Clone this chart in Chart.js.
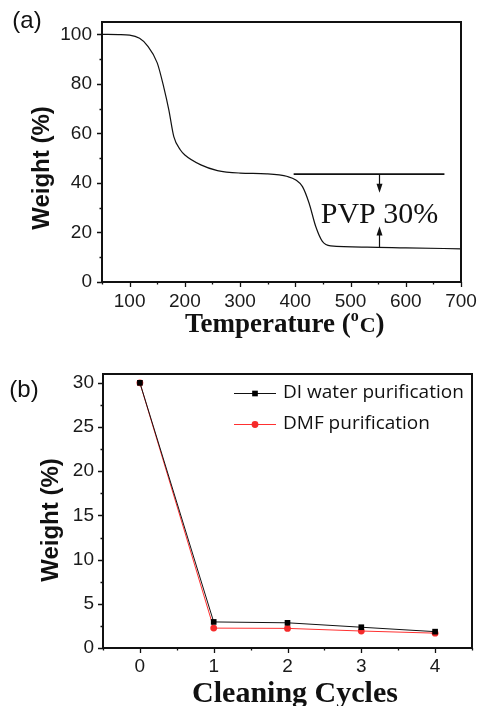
<!DOCTYPE html>
<html>
<head>
<meta charset="utf-8">
<title>PVP removal</title>
<script src="https://cdn.jsdelivr.net/npm/chart.js@4.4.1/dist/chart.umd.min.js"></script>
<style>
  body { margin: 0; background: #fff; overflow: hidden; }
  canvas { position: absolute; left: 0; }
  #tga { top: 0; }
  #cycles { top: 340px; }
</style>
</head>
<body>
<canvas id="tga" width="478" height="340"></canvas>
<canvas id="cycles" width="478" height="366"></canvas>
<script>
// (a) TGA curve
var tgaTemp = [50, 80, 100, 118, 132, 150, 162, 171, 180, 192, 200, 229, 259, 300, 348, 386, 401, 413, 425, 437, 449, 464, 530, 600, 700];
var tgaWeight = [100, 99.9, 99.7, 98.4, 95.5, 88.5, 78.5, 69.5, 58.7, 53.3, 51.3, 47.3, 45, 44, 43.7, 42.6, 41.2, 38.5, 31.8, 22.4, 16.4, 14.6, 14.1, 13.8, 13.4];

// PVP loss marker
var pvpLevel = 43.6;
var pvpStart = 397;
var pvpEnd = 670;
var pvpArrowAt = 552;
var residueLevel = 14.0;
var pvpText = 'PVP 30%';

// (b) weight after each cleaning cycle
var cycles = [0, 1, 2, 3, 4];
var diWater = [30, 2.95, 2.85, 2.35, 1.85];
var dmf = [30, 2.25, 2.22, 1.92, 1.68];
var seriesNames = ['DI water purification', 'DMF purification'];

Chart.defaults.font.family = 'Liberation Sans';
Chart.defaults.color = '#1a1a1a';
Chart.defaults.animation = false;

function isMajor(v, step) {
    return Math.abs(v / step - Math.round(v / step)) < 1e-6;
}

function toPoints(xs, ys) {
    return xs.map(function (x, i) { return { x: x, y: ys[i] }; });
}

// box round the plot and outward ticks, long ones on majors
var frame = {
    id: 'frame',
    afterDraw: function (chart, args, o) {
        var ctx = chart.ctx, a = chart.chartArea;
        var sx = chart.scales.x, sy = chart.scales.y;
        ctx.save();
        ctx.strokeStyle = '#111';
        ctx.lineWidth = 1.3;
        ctx.beginPath();
        sx.ticks.forEach(function (t) {
            var px = Math.round(sx.getPixelForValue(t.value)) + 0.5;
            var len = isMajor(t.value, o.xMajor) ? 5 : 2.5;
            ctx.moveTo(px, a.bottom);
            ctx.lineTo(px, a.bottom + len);
        });
        sy.ticks.forEach(function (t) {
            var py = Math.round(sy.getPixelForValue(t.value)) + 0.5;
            var len = isMajor(t.value, o.yMajor) ? 5 : 2.5;
            ctx.moveTo(a.left - len, py);
            ctx.lineTo(a.left, py);
        });
        ctx.stroke();
        ctx.lineWidth = 2;
        ctx.strokeRect(a.left, a.top, a.right - a.left, a.bottom - a.top);
        ctx.restore();
    }
};

function rotatedText(ctx, text, x, y, font) {
    ctx.save();
    ctx.translate(x, y);
    ctx.rotate(-Math.PI / 2);
    ctx.font = font;
    ctx.textAlign = 'center';
    ctx.textBaseline = 'middle';
    ctx.fillText(text, 0, 0);
    ctx.restore();
}

function arrow(ctx, x, y0, y1) {
    // shaft from y0 to the tip at y1
    var dir = y1 > y0 ? 1 : -1;
    ctx.beginPath();
    ctx.moveTo(x, y0);
    ctx.lineTo(x, y1 - dir * 6);
    ctx.stroke();
    ctx.beginPath();
    ctx.moveTo(x, y1);
    ctx.lineTo(x - 3, y1 - dir * 9);
    ctx.lineTo(x + 3, y1 - dir * 9);
    ctx.closePath();
    ctx.fill();
}

var tgaText = {
    id: 'tgaText',
    afterDraw: function (chart) {
        var ctx = chart.ctx, sx = chart.scales.x, sy = chart.scales.y;
        ctx.save();
        ctx.fillStyle = '#111';
        ctx.strokeStyle = '#111';
        ctx.lineWidth = 1.2;

        var ax = Math.round(sx.getPixelForValue(pvpArrowAt)) + 0.5;
        arrow(ctx, ax, sy.getPixelForValue(pvpLevel), sy.getPixelForValue(36));
        arrow(ctx, ax, sy.getPixelForValue(residueLevel), sy.getPixelForValue(22.4));

        ctx.font = '30px "Liberation Serif"';
        ctx.textAlign = 'center';
        ctx.textBaseline = 'alphabetic';
        ctx.fillText(pvpText, ax, sy.getPixelForValue(23.8));

        ctx.textAlign = 'center';
        ctx.textBaseline = 'middle';
        ctx.font = '24px "Liberation Sans"';
        ctx.fillText('(a)', 27, 21);

        rotatedText(ctx, 'Weight (%)', 42, 168, 'bold 24px "Liberation Sans"');

        // Temperature (oC) with a raised o
        ctx.textAlign = 'left';
        ctx.textBaseline = 'alphabetic';
        var x = 185;
        ctx.font = 'bold 27px "Liberation Serif"';
        ctx.fillText('Temperature (', x, 332);
        x += ctx.measureText('Temperature (').width;
        ctx.font = 'bold 16px "Liberation Serif"';
        ctx.fillText('o', x, 321);
        x += ctx.measureText('o').width + 1;
        ctx.font = 'bold 22px "Liberation Serif"';
        ctx.fillText('C', x, 332);
        x += ctx.measureText('C').width;
        ctx.font = 'bold 27px "Liberation Serif"';
        ctx.fillText(')', x, 332);
        ctx.restore();
    }
};

var cycleText = {
    id: 'cycleText',
    afterDraw: function (chart) {
        var ctx = chart.ctx;
        ctx.save();
        ctx.fillStyle = '#111';
        ctx.textAlign = 'center';
        ctx.textBaseline = 'middle';
        ctx.font = '24px "Liberation Sans"';
        ctx.fillText('(b)', 24, 50);

        rotatedText(ctx, 'Weight (%)', 51, 180, 'bold 24px "Liberation Sans"');

        ctx.font = 'bold 30px "Liberation Serif"';
        ctx.textBaseline = 'alphabetic';
        ctx.fillText('Cleaning Cycles', 295, 361.5);

        // legend: line sample with marker, then name
        var rows = [53, 84];
        chart.data.datasets.forEach(function (ds, i) {
            var y = rows[i];
            ctx.strokeStyle = ds.borderColor;
            ctx.fillStyle = ds.pointBackgroundColor;
            ctx.lineWidth = 1;
            ctx.beginPath();
            ctx.moveTo(234, y + 0.5);
            ctx.lineTo(276, y + 0.5);
            ctx.stroke();
            Chart.helpers.drawPoint(ctx, {
                pointStyle: ds.pointStyle,
                radius: ds.pointRadius,
                rotation: 0,
                borderWidth: 0
            }, 255, y + 0.5);
            ctx.fillStyle = '#111';
            ctx.textAlign = 'left';
            ctx.textBaseline = 'middle';
            ctx.font = '19px "Open Sans"';
            ctx.fillText(ds.label, 283, y);
        });
        ctx.restore();
    }
};

function fixWidth(w) {
    return function (s) { s.width = w; s.paddingTop = 0; s.paddingBottom = 0; };
}
function fixHeight(h) {
    return function (s) { s.height = h; s.paddingLeft = 0; s.paddingRight = 0; };
}

new Chart(document.getElementById('tga'), {
    type: 'line',
    data: {
        datasets: [{
            data: toPoints(tgaTemp, tgaWeight),
            borderColor: '#111',
            borderWidth: 1.2,
            pointRadius: 0,
            cubicInterpolationMode: 'monotone'
        }, {
            data: toPoints([pvpStart, pvpEnd], [pvpLevel, pvpLevel]),
            borderColor: '#111',
            borderWidth: 1.8,
            pointRadius: 0
        }]
    },
    options: {
        responsive: false,
        layout: { padding: { left: 0, right: 17, top: 22, bottom: 0 } },
        plugins: { legend: { display: false }, tooltip: { enabled: false }, frame: { xMajor: 100, yMajor: 20 } },
        scales: {
            x: {
                type: 'linear', min: 50, max: 700,
                grid: { display: false, drawTicks: false },
                border: { display: false },
                afterFit: fixHeight(58),
                ticks: {
                    stepSize: 50, padding: 8, maxRotation: 0, autoSkip: false,
                    font: { size: 19 },
                    callback: function (v) { return isMajor(v, 100) ? v : ''; }
                }
            },
            y: {
                min: 0, max: 105,
                grid: { display: false, drawTicks: false },
                border: { display: false },
                afterFit: fixWidth(102),
                ticks: {
                    stepSize: 10, padding: 10, autoSkip: false, includeBounds: false,
                    font: { size: 19 },
                    callback: function (v) { return isMajor(v, 20) ? v : ''; }
                }
            }
        }
    },
    plugins: [frame, tgaText]
});

new Chart(document.getElementById('cycles'), {
    type: 'line',
    data: {
        datasets: [{
            label: seriesNames[0],
            data: toPoints(cycles, diWater),
            borderColor: '#111',
            borderWidth: 1,
            pointStyle: 'rect',
            pointRadius: 4,
            pointBorderWidth: 0,
            pointBackgroundColor: '#000'
        }, {
            label: seriesNames[1],
            data: toPoints(cycles, dmf),
            borderColor: '#ff3030',
            borderWidth: 1,
            pointStyle: 'circle',
            pointRadius: 3.4,
            pointBorderWidth: 0,
            pointBackgroundColor: '#f52a2a'
        }]
    },
    options: {
        responsive: false,
        layout: { padding: { left: 0, right: 6, top: 34, bottom: 0 } },
        plugins: { legend: { display: false }, tooltip: { enabled: false }, frame: { xMajor: 1, yMajor: 5 } },
        scales: {
            x: {
                type: 'linear', min: -0.5, max: 4.5,
                grid: { display: false, drawTicks: false },
                border: { display: false },
                afterFit: fixHeight(58),
                ticks: {
                    stepSize: 0.5, padding: 7, maxRotation: 0, autoSkip: false,
                    font: { size: 19 },
                    callback: function (v) { return isMajor(v, 1) ? v : ''; }
                }
            },
            y: {
                min: 0, max: 31,
                grid: { display: false, drawTicks: false },
                border: { display: false },
                afterFit: fixWidth(103),
                ticks: {
                    stepSize: 2.5, padding: 9, autoSkip: false, includeBounds: false,
                    font: { size: 19 },
                    callback: function (v) { return isMajor(v, 5) ? v : ''; }
                }
            }
        }
    },
    plugins: [frame, cycleText]
});
</script>
</body>
</html>
